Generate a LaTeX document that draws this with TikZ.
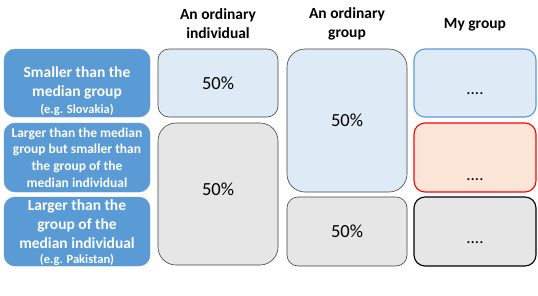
\documentclass[tikz,border=0pt]{standalone}
\usepackage{fontspec}
\setmainfont{Carlito}
\usepackage{xcolor}
\usetikzlibrary{positioning}

\definecolor{boxblue}{HTML}{5B9BD5}
\definecolor{paleblue}{HTML}{DEEBF7}
\definecolor{palegray}{HTML}{E7E6E6}
\definecolor{palepink}{HTML}{FBE5D6}
\definecolor{edgegray}{HTML}{404040}

\begin{document}
\begin{tikzpicture}[
    x=1pt, y=-1pt,
    head/.style={align=center, font=\bfseries\fontsize{15.5}{19}\selectfont},
    rowbox/.style={draw=boxblue, fill=boxblue, rounded corners=11pt, align=center,
                   text=white, minimum width=146pt, inner sep=0pt,
                   font=\bfseries\fontsize{15.5}{18.5}\selectfont},
    share/.style={draw=edgegray, line width=0.6pt, minimum width=120pt, inner sep=0pt,
                  font=\fontsize{18.5}{20}\selectfont},
    mine/.style={line width=1.1pt, minimum width=122pt, minimum height=68pt,
                 rounded corners=11pt, inner sep=0pt, font=\fontsize{17}{18}\selectfont},
  ]
  \useasboundingbox (0,0) rectangle (538,295);

  % column heads
  \node[head] (hind) at (218,23.5) {An ordinary\\individual};
  \node[head] (hgrp) at (347,23.5) {An ordinary\\group};
  \node[head] (hmy) at (475,25) {My group};

  % row labels
  \node[rowbox, minimum height=68pt] (smallrow) at (77,83)
    {\raisebox{-8pt}[\height][\depth]{\parbox{146pt}{\centering Smaller than the\\ median group\\[-1.5pt]
     {\fontsize{12.5}{14}\selectfont (e.g. Slovakia)}}}};
  \node[rowbox, minimum height=69pt, font=\bfseries\fontsize{13.5}{16.7}\selectfont] (midrow) at (77,157.5)
    {Larger than the median\\ group but smaller than\\ the group of the\\ median individual};
  \node[rowbox, minimum height=69pt, font=\bfseries\fontsize{15.5}{19}\selectfont] (largerow) at (77,231.5)
    {\raisebox{-1.5pt}[\height][\depth]{\parbox{146pt}{\centering Larger than the\\ group of the\\ median individual\\[-4pt]
     {\fontsize{12.5}{14}\selectfont (e.g. Pakistan)}}}};

  % an ordinary individual
  \node[share, fill=paleblue, minimum height=68pt, rounded corners=11pt] (indtop) at (218,83) {50\%};
  \node[share, fill=palegray, minimum height=142pt, rounded corners=18pt] (indbot) at (218,194)
    {\raisebox{5pt}[\height][\depth]{50\%}};

  % an ordinary group
  \node[share, fill=paleblue, minimum height=143pt, rounded corners=18pt] (grptop) at (347,120.5) {50\%};
  \node[share, fill=palegray, minimum height=69pt, rounded corners=11pt] (grpbot) at (347,231.5) {50\%};

  % my group
  \node[mine, draw=boxblue, fill=paleblue] (mytop) at (475,83)
    {\raisebox{-11pt}[\height][\depth]{....}};
  \node[mine, draw=red, fill=palepink, minimum height=69pt] (mymid) at (475,157.5)
    {\raisebox{-22pt}[\height][\depth]{....}};
  \node[mine, draw=black, fill=palegray, minimum height=69pt] (mybot) at (475,231.5)
    {\raisebox{-11pt}[\height][\depth]{....}};
\end{tikzpicture}
\end{document}
